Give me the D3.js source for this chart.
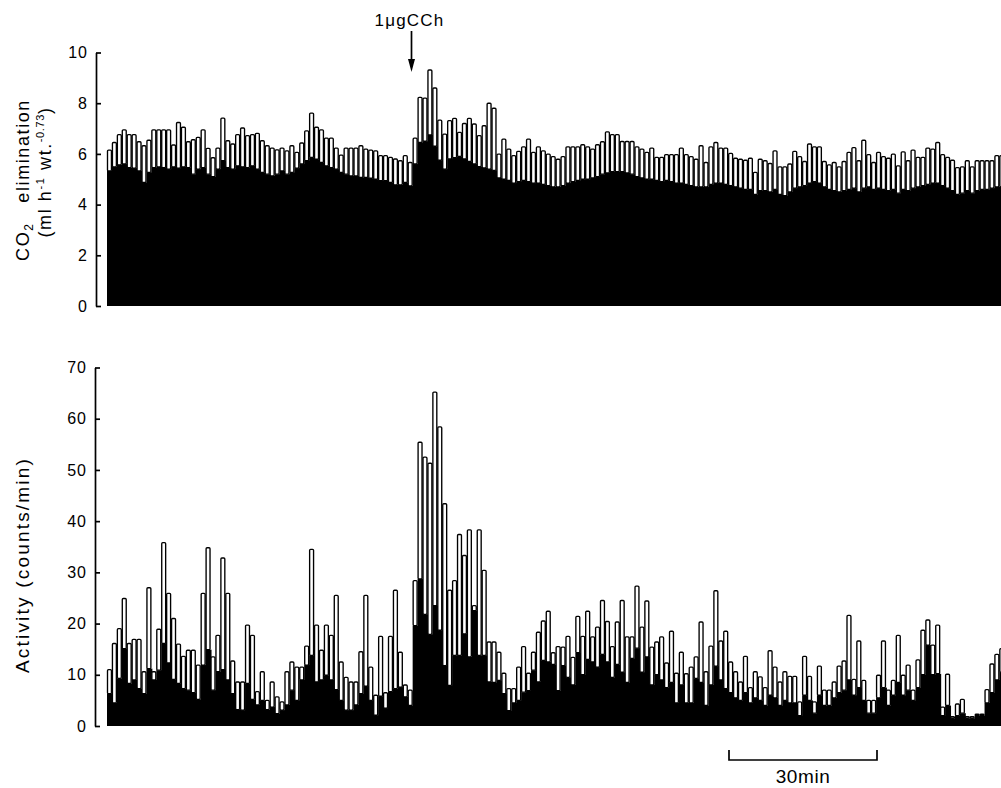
<!DOCTYPE html>
<html>
<head>
<meta charset="utf-8">
<script src="https://cdn.jsdelivr.net/npm/d3@7"></script>
<style>
  body { margin: 0; background: #fff; }
  text { font-family: "Liberation Sans", Arial, Helvetica, sans-serif; fill: #000; }
</style>
</head>
<body>
<svg id="chart"></svg>
<script>
// one bin per minute
const minutes = d3.range(182);

// CO2 elimination, total height of each bar (ml h-1 wt.-0.73)
const co2Total = [
  6.15, 6.45, 6.76, 6.95, 6.76, 6.76, 6.48, 6.32, 6.54, 6.95,
  6.95, 6.95, 6.95, 6.35, 7.24, 7.05, 6.48, 6.56, 6.65, 6.95,
  6.22, 5.85, 6.23, 7.41, 6.52, 6.39, 6.76, 7.02, 6.72, 6.76,
  6.81, 6.52, 6.32, 6.23, 6.16, 6.23, 6.12, 6.32, 6.06, 6.43,
  6.91, 7.61, 7.05, 6.95, 6.62, 6.62, 6.23, 5.95, 6.23, 6.23,
  6.23, 6.32, 6.19, 6.15, 6.12, 5.93, 5.93, 5.86, 5.80, 5.73,
  5.93, 5.66, 6.62, 8.23, 8.20, 9.31, 8.60, 7.33, 6.78, 7.31,
  7.40, 6.85, 7.20, 7.40, 7.18, 6.72, 7.11, 8.00, 7.80, 5.99,
  6.58, 6.19, 5.93, 6.10, 6.28, 6.58, 6.06, 6.28, 6.12, 5.99,
  5.89, 5.79, 5.89, 6.28, 6.28, 6.28, 6.36, 6.28, 6.19, 6.36,
  6.48, 6.87, 6.76, 6.76, 6.49, 6.49, 6.49, 6.28, 6.19, 6.06,
  6.23, 5.86, 5.86, 5.97, 5.97, 5.97, 6.23, 5.97, 5.89, 5.79,
  6.32, 5.66, 6.28, 6.45, 6.23, 6.23, 6.02, 5.83, 5.79, 5.75,
  5.83, 5.27, 5.79, 5.73, 5.62, 6.12, 5.49, 5.49, 5.60, 6.10,
  5.89, 5.70, 6.39, 6.28, 6.28, 5.70, 5.57, 5.66, 5.49, 5.70,
  6.06, 6.25, 5.73, 6.54, 5.97, 5.66, 6.06, 5.89, 5.83, 5.99,
  5.53, 6.08, 5.73, 6.15, 5.86, 5.86, 6.23, 6.19, 6.45, 5.97,
  5.86, 5.75, 5.46, 5.49, 5.73, 5.49, 5.73, 5.73, 5.73, 5.73,
  5.93, 5.93
];

// CO2 elimination, black (lower) part of each bar
const co2Black = [
  5.33, 5.49, 5.57, 5.60, 5.46, 5.44, 5.33, 4.87, 5.27, 5.46,
  5.49, 5.46, 5.40, 5.49, 5.44, 5.49, 5.46, 5.20, 5.40, 5.46,
  5.20, 5.10, 5.40, 5.73, 5.46, 5.40, 5.53, 5.49, 5.46, 5.53,
  5.40, 5.27, 5.20, 5.13, 5.20, 5.33, 5.20, 5.27, 5.44, 5.60,
  5.73, 5.86, 5.79, 5.66, 5.53, 5.46, 5.40, 5.27, 5.20, 5.13,
  5.13, 5.07, 5.07, 5.04, 5.00, 4.94, 4.94, 4.87, 4.78, 4.78,
  4.87, 4.74, 5.60, 6.45, 6.50, 6.75, 6.30, 5.75, 5.40, 5.80,
  5.85, 5.90, 5.80, 5.70, 5.60, 5.50, 5.45, 5.40, 5.35, 5.05,
  5.00, 4.95, 4.85, 4.90, 4.95, 4.90, 4.85, 4.85, 4.80, 4.75,
  4.70, 4.70, 4.75, 4.85, 4.90, 4.95, 5.00, 5.00, 5.05, 5.10,
  5.20, 5.25, 5.30, 5.30, 5.30, 5.25, 5.20, 5.10, 5.05, 5.00,
  5.00, 4.95, 4.90, 4.95, 4.90, 4.85, 4.85, 4.80, 4.75, 4.70,
  4.70, 4.70, 4.80, 4.85, 4.85, 4.80, 4.75, 4.70, 4.65, 4.60,
  4.60, 4.40, 4.55, 4.55, 4.50, 4.60, 4.40, 4.35, 4.50, 4.65,
  4.70, 4.75, 4.85, 4.90, 4.85, 4.70, 4.60, 4.55, 4.50, 4.55,
  4.60, 4.65, 4.50, 4.65, 4.70, 4.60, 4.65, 4.60, 4.55, 4.60,
  4.45, 4.60, 4.55, 4.65, 4.70, 4.75, 4.80, 4.85, 4.85, 4.75,
  4.65, 4.55, 4.40, 4.45, 4.55, 4.45, 4.55, 4.60, 4.60, 4.65,
  4.70, 4.70
];

// activity, total height of each bar (counts/min)
const actTotal = [
  11.0, 16.1, 19.0, 24.9, 16.1, 16.9, 16.9, 10.6, 27.0, 10.6,
  18.9, 35.8, 25.9, 21.0, 16.0, 13.6, 14.8, 14.8, 11.9, 25.9,
  34.8, 13.5, 17.7, 32.8, 25.9, 12.7, 8.6, 8.6, 19.7, 17.7,
  6.7, 10.6, 5.0, 8.6, 5.7, 4.7, 10.6, 12.5, 11.5, 11.5,
  15.6, 34.5, 19.7, 14.8, 19.7, 17.7, 25.5, 12.5, 9.5, 8.6,
  8.6, 14.5, 25.5, 11.5, 6.0, 17.5, 6.5, 17.5, 26.5, 14.4,
  8.0, 7.0, 28.4, 55.4, 52.5, 51.3, 65.2, 58.4, 43.4, 26.5,
  28.4, 37.4, 33.3, 38.3, 23.5, 38.3, 30.4, 16.4, 16.4, 14.4,
  10.3, 7.3, 7.3, 11.5, 15.5, 10.3, 14.4, 18.3, 20.5, 22.4,
  14.3, 15.5, 15.4, 17.5, 13.4, 21.4, 17.5, 22.4, 17.4, 19.3,
  24.5, 20.4, 15.5, 20.3, 24.5, 17.4, 17.4, 27.3, 19.3, 24.4,
  15.4, 16.4, 17.4, 12.3, 18.5, 10.3, 14.4, 10.2, 11.5, 13.5,
  20.3, 10.6, 15.6, 26.4, 16.6, 18.5, 12.5, 10.6, 8.6, 13.6,
  7.5, 10.6, 9.6, 7.5, 14.7, 11.5, 8.6, 10.6, 9.7, 9.7,
  4.7, 13.6, 9.7, 4.7, 11.7, 7.0, 7.0, 8.6, 11.7, 12.7,
  21.6, 9.1, 16.6, 8.9, 5.0, 5.0, 9.9, 16.6, 7.0, 8.9,
  17.7, 9.9, 11.9, 7.0, 12.9, 18.7, 20.7, 15.8, 19.7, 3.7,
  10.1, 1.8, 4.3, 5.2, 1.8, 1.8, 2.3, 2.3, 7.1, 12.1,
  14.0, 15.1
];

// activity, black (lower) part of each bar
const actBlack = [
  6.3, 4.5, 9.3, 15.1, 8.3, 9.0, 7.3, 6.3, 11.2, 9.0,
  10.9, 16.1, 12.3, 9.1, 8.3, 7.3, 7.0, 6.5, 5.2, 11.9,
  14.9, 7.0, 10.6, 11.0, 9.0, 6.3, 3.2, 3.1, 8.3, 5.2,
  4.1, 5.0, 3.2, 3.7, 2.4, 3.1, 4.1, 7.0, 5.0, 9.0,
  11.9, 13.8, 8.6, 9.0, 9.9, 9.0, 7.1, 5.0, 3.1, 3.1,
  4.1, 6.3, 7.8, 5.0, 2.1, 5.8, 3.5, 6.7, 7.3, 7.6,
  5.7, 4.0, 19.6, 28.7, 21.8, 17.9, 23.5, 18.7, 11.8, 7.9,
  13.8, 13.8, 18.0, 13.5, 22.5, 13.8, 13.8, 8.6, 8.5, 8.9,
  6.3, 3.0, 4.5, 5.0, 6.6, 6.9, 10.9, 8.6, 12.8, 12.5,
  12.0, 6.9, 11.8, 9.5, 8.0, 14.3, 10.0, 13.0, 12.5, 11.5,
  14.0, 12.5, 9.5, 12.0, 10.5, 8.5, 13.2, 15.2, 10.5, 13.5,
  8.0, 10.0, 9.0, 7.5, 8.5, 4.5, 8.0, 4.5, 4.5, 9.3,
  8.5, 4.0, 8.0, 11.7, 9.0, 7.3, 6.5, 5.5, 5.0, 6.5,
  4.5, 5.5, 5.0, 4.0, 6.0, 5.5, 4.0, 5.0, 4.5, 4.5,
  2.0, 6.0, 5.0, 2.5, 6.0, 4.0, 4.0, 5.5, 6.5, 7.0,
  9.0, 6.0, 7.5, 5.0, 2.5, 2.5, 5.5, 7.5, 4.0, 6.0,
  8.5, 6.0, 7.0, 5.0, 7.5, 10.0, 15.8, 10.0, 10.2, 2.0,
  4.0, 1.5, 2.0, 2.5, 1.5, 1.5, 2.0, 2.0, 4.5, 6.5,
  9.0, 10.5
];

const co2Ticks = [0, 2, 4, 6, 8, 10];
const actTicks = [0, 10, 20, 30, 40, 50, 60, 70];
const injectionLabel = '1μgCCh';
const scaleLabel = '30min';

const width = 1001, height = 788;
const svg = d3.select('#chart').attr('width', width).attr('height', height);

const x = d3.scaleBand().domain(minutes).range([107, 107 + minutes.length * 4.93]);
const bw = x.bandwidth();

function drawPanel(total, black, y, ticks, axisX) {
    const g = svg.append('g');

    g.selectAll('rect.solid')
        .data(minutes)
        .join('rect')
        .attr('class', 'solid')
        .attr('x', i => x(i))
        .attr('width', bw + 1)
        .attr('y', i => y(black[i]))
        .attr('height', i => y(0) - y(black[i]))
        .attr('fill', '#000');

    g.selectAll('rect.open')
        .data(minutes)
        .join('rect')
        .attr('class', 'open')
        .attr('x', i => x(i) + 0.5)
        .attr('width', bw - 1)
        .attr('y', i => y(total[i]))
        .attr('height', i => y(black[i]) - y(total[i]))
        .attr('rx', 1)
        .attr('fill', '#fff')
        .attr('stroke', '#000')
        .attr('stroke-width', 1.35);

    const ax = svg.append('g')
        .attr('transform', `translate(${axisX},0)`)
        .call(d3.axisLeft(y).tickValues(ticks).tickSize(-5).tickSizeOuter(0).tickPadding(8));
    ax.select('.domain').attr('stroke-width', 1.7);
    ax.selectAll('.tick line').attr('stroke-width', 1.7);
    ax.selectAll('.tick text')
        .attr('font-size', 16)
        .attr('font-family', '"Liberation Sans", Arial, sans-serif')
        .attr('letter-spacing', 1);
}

const yCo2 = d3.scaleLinear().domain([0, 10]).range([306, 52.5]);
const yAct = d3.scaleLinear().domain([0, 70]).range([726, 367.5]);

drawPanel(co2Total, co2Black, yCo2, co2Ticks, 96);
drawPanel(actTotal, actBlack, yAct, actTicks, 95);

// y titles
const t1 = svg.append('text')
    .attr('transform', 'translate(29,180) rotate(-90)')
    .attr('text-anchor', 'middle')
    .attr('font-size', 18)
    .attr('letter-spacing', 1.6)
    .style('white-space', 'pre');
t1.append('tspan').text('CO');
t1.append('tspan').attr('font-size', 12).attr('dy', 4).text('2');
t1.append('tspan').attr('dy', -4).text('   elimination');

const t2 = svg.append('text')
    .attr('transform', 'translate(51,172) rotate(-90)')
    .attr('text-anchor', 'middle')
    .attr('font-size', 18)
    .attr('letter-spacing', 1.6);
t2.append('tspan').text('(ml h');
t2.append('tspan').attr('font-size', 11).attr('dy', -7).text('-1');
t2.append('tspan').attr('dy', 7).text(' wt.');
t2.append('tspan').attr('font-size', 11).attr('dy', -7).attr('letter-spacing', 0.6).text('-0.73');
t2.append('tspan').attr('dy', 7).text(')');

svg.append('text')
    .attr('transform', 'translate(29,565) rotate(-90)')
    .attr('text-anchor', 'middle')
    .attr('font-size', 19)
    .attr('letter-spacing', 2.2)
    .text('Activity (counts/min)');

// injection marker
const injX = 411.5;
svg.append('text')
    .attr('x', injX - 2).attr('y', 26)
    .attr('text-anchor', 'middle')
    .attr('font-size', 17)
    .attr('letter-spacing', 1.2)
    .text(injectionLabel);
svg.append('line')
    .attr('x1', injX).attr('x2', injX)
    .attr('y1', 31).attr('y2', 62)
    .attr('stroke', '#000').attr('stroke-width', 1.7);
svg.append('path')
    .attr('d', `M${injX - 3.5},59 L${injX + 3.5},59 L${injX},72 Z`)
    .attr('fill', '#000');

// time scale bar
svg.append('path')
    .attr('d', 'M729,750 V760 H877 V750')
    .attr('fill', 'none')
    .attr('stroke', '#000')
    .attr('stroke-width', 1.7);
svg.append('text')
    .attr('x', 803).attr('y', 783)
    .attr('text-anchor', 'middle')
    .attr('font-size', 19)
    .attr('letter-spacing', 0.6)
    .text(scaleLabel);
</script>
</body>
</html>
